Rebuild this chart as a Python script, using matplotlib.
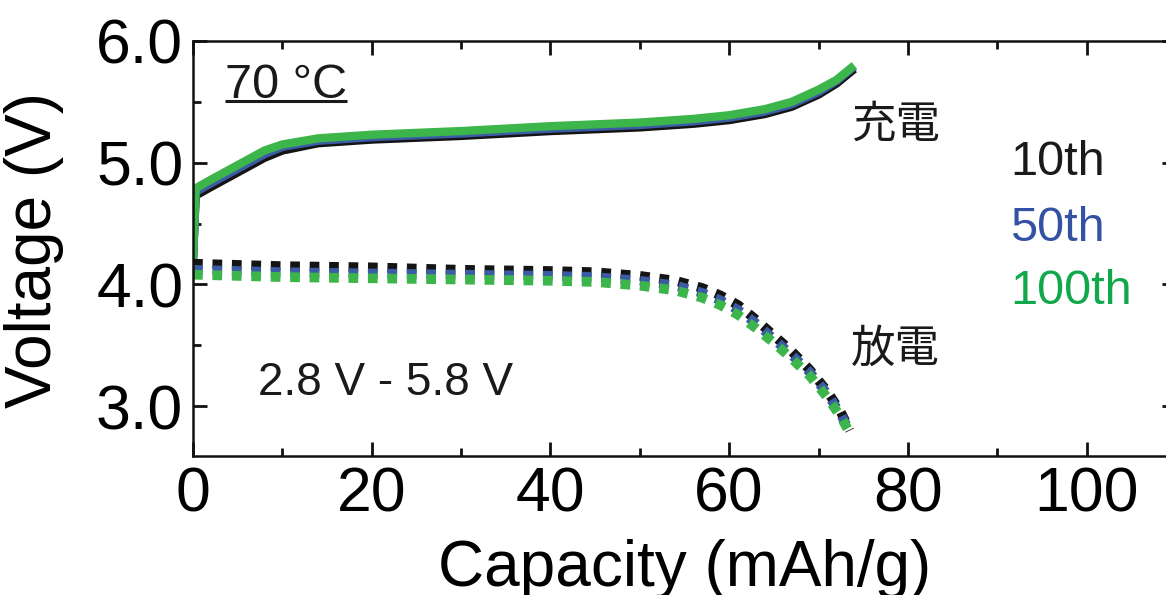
import matplotlib.pyplot as plt
from matplotlib.ticker import MultipleLocator

plt.rcParams['font.family'] = ['Liberation Sans', 'Noto Sans CJK JP', 'DejaVu Sans']

# charge curves (capacity mAh/g, voltage V)
charge_cap = [0, 0.3, 2, 4, 6, 8, 10, 14, 20, 30, 40, 50, 56, 60, 64, 67, 70, 72, 74]
charge_100 = [4.20, 4.79, 4.86, 4.94, 5.02, 5.10, 5.15, 5.20, 5.23, 5.26, 5.30, 5.33, 5.36, 5.39, 5.44, 5.50, 5.60, 5.68, 5.80]
charge_50 = [4.20, 4.76, 4.83, 4.91, 4.99, 5.07, 5.13, 5.18, 5.21, 5.24, 5.28, 5.31, 5.34, 5.37, 5.42, 5.48, 5.58, 5.67, 5.79]
charge_10 = [4.20, 4.73, 4.80, 4.88, 4.96, 5.04, 5.10, 5.16, 5.19, 5.22, 5.26, 5.29, 5.32, 5.35, 5.40, 5.46, 5.56, 5.65, 5.77]

# discharge curves
dis_cap = [0, 5, 10, 20, 30, 40, 45, 50, 54, 57, 59, 61, 63, 65, 67, 69, 71, 72.5, 73.5]
dis_10 = [4.17, 4.16, 4.15, 4.14, 4.12, 4.11, 4.10, 4.07, 4.03, 3.97, 3.91, 3.83, 3.71, 3.58, 3.45, 3.30, 3.12, 2.95, 2.80]
dis_50 = [4.12, 4.11, 4.10, 4.09, 4.08, 4.07, 4.06, 4.03, 3.99, 3.93, 3.87, 3.79, 3.68, 3.55, 3.42, 3.28, 3.10, 2.93, 2.79]
dis_100 = [4.08, 4.07, 4.06, 4.05, 4.04, 4.03, 4.02, 3.99, 3.95, 3.89, 3.83, 3.75, 3.64, 3.52, 3.39, 3.25, 3.07, 2.91, 2.78]

cycles = ['10th', '50th', '100th']
line_colors = ['#141414', '#3b5ba5', '#3cb54a']
text_colors = ['#1a1a1a', '#3452a4', '#10a84a']

fig = plt.figure(figsize=(11.66, 5.95), dpi=100)
ax = fig.add_axes([193 / 1166, 139 / 595, 983 / 1166, 415 / 595])

for v, c in zip([charge_10, charge_50, charge_100], line_colors):
    ax.plot(charge_cap, v, color=c, lw=6, solid_capstyle='butt', solid_joinstyle='round')
for v, c in zip([dis_10, dis_50, dis_100], line_colors):
    ax.plot(dis_cap, v, color=c, lw=7, linestyle=(0, (1, 1)), dash_capstyle='butt')

ax.set_xlim(0, 110)
ax.set_ylim(2.59, 6.0)
ax.xaxis.set_major_locator(MultipleLocator(20))
ax.xaxis.set_minor_locator(MultipleLocator(10))
ax.yaxis.set_major_locator(MultipleLocator(1))
ax.yaxis.set_minor_locator(MultipleLocator(0.5))
ax.yaxis.set_major_formatter(lambda v, p: f'{v:.1f}')
ax.tick_params(which='both', direction='in', top=True, right=True, width=2, color='#111111')
ax.tick_params(which='major', length=10, labelsize=45, pad=7)
ax.tick_params(which='minor', length=6)
for s in ax.spines.values():
    s.set_linewidth(1.8)
    s.set_color('#111111')

fig.text(685 / 1166, 9 / 595, 'Capacity (mAh/g)', fontsize=46, ha='center', va='baseline')
fig.text(34 / 1166, 345 / 595, 'Voltage (V)', fontsize=46, rotation=90, ha='center', va='center')

t70 = ax.text(3.6, 5.532, '70 °C', fontsize=35, va='baseline', color='#1a1a1a')
ax.text(7.3, 3.19, '2.8 V - 5.8 V', fontsize=33, va='center', color='#1a1a1a')
ax.text(78.6, 5.30, '充電', fontsize=32, ha='center', va='center', color='#1a1a1a')
ax.text(78.6, 3.46, '放電', fontsize=32, ha='center', va='center', color='#1a1a1a')
for lab, c, y in zip(cycles, text_colors, [5.0, 4.46, 3.94]):
    ax.text(91.4, y, lab, fontsize=35, va='center', color=c)

# underline under the temperature label
fig.canvas.draw()
bb = t70.get_window_extent(fig.canvas.get_renderer())
x0 = ax.transData.inverted().transform((bb.x0, 0))[0]
x1 = ax.transData.inverted().transform((bb.x1, 0))[0]
ax.plot([x0, x1], [5.503, 5.503], color='#1a1a1a', lw=2.2, solid_capstyle='butt')

fig.savefig('out.png', dpi=100)
